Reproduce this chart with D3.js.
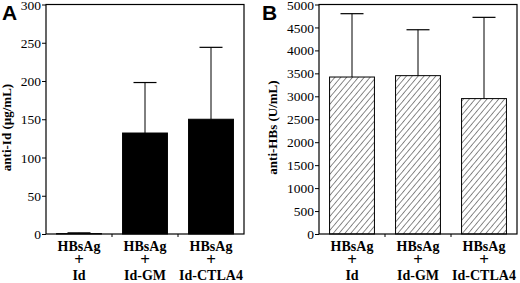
<!DOCTYPE html>
<html>
<head>
<meta charset="utf-8">
<script src="https://cdn.jsdelivr.net/npm/d3@7"></script>
<style>
body { margin: 0; background: #fff; }
svg { display: block; }
</style>
</head>
<body>
<svg width="520" height="283"></svg>
<script>
// data
var groups = ["Id", "Id-GM", "Id-CTLA4"];
var antiId = [0.5, 132, 150];
var antiIdErr = [1.5, 198, 244];
var antiHBs = [3420, 3450, 2950];
var antiHBsErr = [4800, 4450, 4720];
var ticksA = [0, 50, 100, 150, 200, 250, 300];
var ticksB = [0, 500, 1000, 1500, 2000, 2500, 3000, 3500, 4000, 4500, 5000];

var svg = d3.select("svg");
var serif = "'Liberation Serif', 'Times New Roman', serif";

// hatch for panel B
var defs = svg.append("defs");
defs.append("pattern")
  .attr("id", "hatch")
  .attr("patternUnits", "userSpaceOnUse")
  .attr("width", 4.5).attr("height", 4.5)
  .attr("patternTransform", "rotate(40)")
  .append("line")
    .attr("x1", 0).attr("y1", 0).attr("x2", 0).attr("y2", 4.5)
    .attr("stroke", "#000").attr("stroke-width", 0.9);

function panel(opts) {
  var left = opts.left, top = 4.5, w = 198, h = 229.5;
  var g = svg.append("g").attr("transform", "translate(" + left + "," + top + ")");

  var x = d3.scaleBand().domain(groups).range([0, w]).paddingInner(0.32).paddingOuter(0.16);
  var xb = d3.scaleBand().domain(groups).range([0, w]);
  var y = d3.scaleLinear().domain([0, opts.max]).range([h, 0]);

  // frame
  g.append("rect").attr("width", w).attr("height", h)
    .attr("fill", "none").attr("stroke", "#000").attr("stroke-width", 1.2);

  // bars
  g.selectAll(".bar").data(groups).enter().append("rect")
    .attr("x", function(d) { return x(d); })
    .attr("y", function(d, i) { return y(opts.vals[i]); })
    .attr("width", x.bandwidth())
    .attr("height", function(d, i) { return h - y(opts.vals[i]); })
    .attr("fill", opts.fill)
    .attr("stroke", "#000").attr("stroke-width", 1);

  // error bars (upper only)
  var cx = function(d) { return x(d) + x.bandwidth() / 2; };
  g.selectAll(".err").data(groups).enter().append("line")
    .attr("x1", cx).attr("x2", cx)
    .attr("y1", function(d, i) { return y(opts.vals[i]); })
    .attr("y2", function(d, i) { return y(opts.errs[i]); })
    .attr("stroke", "#000").attr("stroke-width", 1);
  g.selectAll(".cap").data(groups).enter().append("line")
    .attr("x1", function(d) { return cx(d) - 11.5; })
    .attr("x2", function(d) { return cx(d) + 11.5; })
    .attr("y1", function(d, i) { return y(opts.errs[i]); })
    .attr("y2", function(d, i) { return y(opts.errs[i]); })
    .attr("stroke", "#000").attr("stroke-width", 1.2);

  // y axis
  var ya = g.append("g")
    .call(d3.axisLeft(y).tickValues(opts.ticks).tickSize(4).tickPadding(1).tickFormat(d3.format("d")));
  ya.select(".domain").remove();
  ya.selectAll("text").attr("font-family", serif).attr("font-size", 13.5).attr("fill", "#000")
    .attr("dy", "0.34em");
  ya.selectAll("line").attr("stroke-width", 1);

  // x ticks at band edges
  g.selectAll(".xt").data(groups.slice(1)).enter().append("line")
    .attr("x1", function(d) { return xb(d); }).attr("x2", function(d) { return xb(d); })
    .attr("y1", h).attr("y2", h + 3)
    .attr("stroke", "#000");

  // category labels
  var lab = g.selectAll(".lab").data(groups).enter().append("text")
    .attr("text-anchor", "middle")
    .attr("font-family", serif).attr("font-weight", "bold").attr("font-size", 14)
    .attr("transform", function(d) { return "translate(" + (xb(d) + xb.bandwidth() / 2) + "," + (h + 17) + ")"; });
  lab.append("tspan").attr("x", 0).attr("y", 0).text("HBsAg");
  lab.append("tspan").attr("x", 0).attr("y", 14).attr("font-size", 17).text("+");
  lab.append("tspan").attr("x", 0).attr("y", 29).text(function(d) { return d; });

  // axis title
  g.append("text")
    .attr("transform", "translate(" + opts.titleX + "," + 123 + ") rotate(-90)")
    .attr("text-anchor", "middle")
    .attr("font-family", serif).attr("font-weight", "bold").attr("font-size", 13)
    .text(opts.title);

  // panel letter
  svg.append("text")
    .attr("x", opts.letterX).attr("y", 20)
    .attr("font-family", "'Liberation Sans', Arial, sans-serif")
    .attr("font-weight", "bold").attr("font-size", 21)
    .text(opts.letter);
}

panel({ left: 46, max: 300, vals: antiId, errs: antiIdErr, ticks: ticksA,
        fill: "#000", title: "anti-Id (\u00b5g/mL)", titleX: -35, letter: "A", letterX: 2 });
panel({ left: 319, max: 5000, vals: antiHBs, errs: antiHBsErr, ticks: ticksB,
        fill: "url(#hatch)", title: "anti-HBs (U/mL)", titleX: -42, letter: "B", letterX: 262 });
</script>
</body>
</html>
